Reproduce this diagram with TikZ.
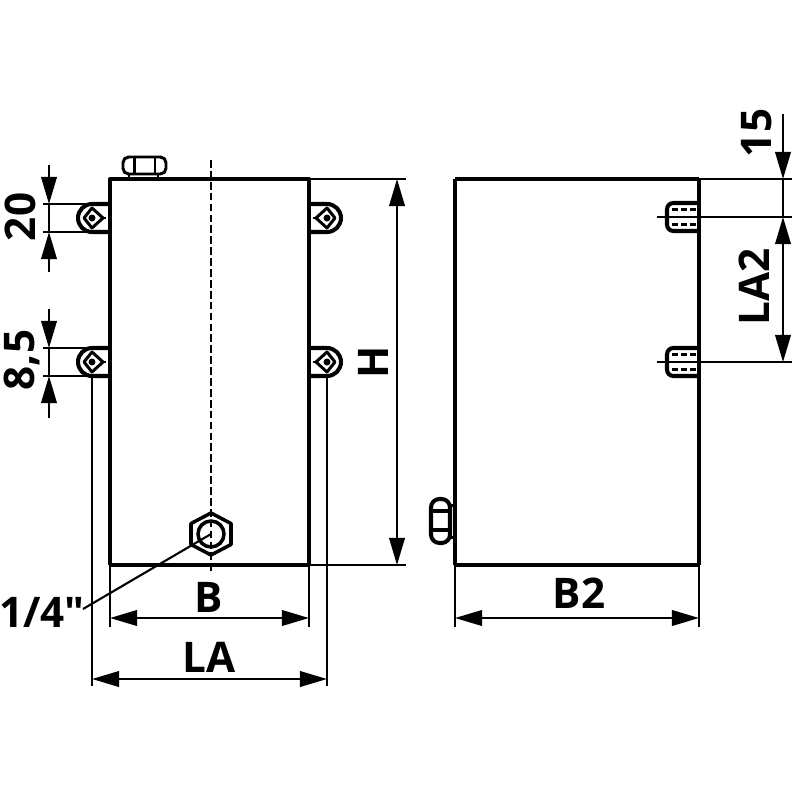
\documentclass[tikz,border=0pt]{standalone}
\usepackage{fontspec}
\newfontfamily\lblfont{Open Sans}
\usetikzlibrary{arrows.meta}
\tikzset{
thk/.style={line width=1.15pt,line join=round},
med/.style={line width=0.85pt,line join=round},
thn/.style={line width=0.6pt},
dim/.style={line width=0.6pt,{Triangle[length=0.27cm,width=0.155cm]}-{Triangle[length=0.27cm,width=0.155cm]}},
tip/.style={line width=0.6pt,-{Triangle[length=0.27cm,width=0.155cm]}},
lbl/.style={font=\fontsize{12}{12}\lblfont\bfseries,inner sep=0pt},
pics/lug/.style={code={
\draw[thk](18,-14)--(0,-14)arc(270:90:14)--(18,14);
\draw[med](-8,0)--(0,-10)--(11,0)--(0,10)--cycle;
\draw[med](11,0)--(14,0);
\fill(0,0)circle(3.5);
}},
pics/plug/.style={code={
\draw[thk,rounded corners=1.8pt](0,-14)--(-32,-14)--(-32,14)--(0,14);
\draw[line width=1pt,dash pattern=on 1.7pt off 0.9pt](-27,-7.5)--(0,-7.5)(-27,7.5)--(0,7.5);
\draw[line width=0.8pt,dash pattern=on 1.7pt off 0.9pt](-27,0)--(0,0);
}}
}
\begin{document}
\begin{tikzpicture}[x=0.01cm,y=-0.01cm]
\useasboundingbox(0,0)rectangle(800,800);
\coordinate(A)at(110,179);\coordinate(B)at(309,179);
\coordinate(C)at(309,565);\coordinate(D)at(110,565);
\coordinate(E)at(455,179);\coordinate(F)at(699,179);
\coordinate(G)at(699,565);\coordinate(K)at(455,565);
\coordinate(P)at(211,534);
% front view
\draw[thk](D)--(A)--(B)--(C);
\draw[line width=1.3pt](D)--(C);
\draw[thn,dash pattern=on 2.2pt off 0.9pt](211,160)--(211,573);
\draw[line width=1pt,line join=round](211,513)--(231,523.5)--(231,544.5)--(211,555)--(191,544.5)--(191,523.5)--cycle;
\draw[line width=1pt](P)circle(13);
\draw[med,rounded corners=1.6pt](123,157)rectangle(166,174);
\draw[med](134.5,157)--(134.5,174)(155,157)--(155,174)(129,174)--(129,179)(158,174)--(158,179);
\pic at(92,218){lug};
\pic at(92,362){lug};
\pic[xscale=-1]at(327,218){lug};
\pic[xscale=-1]at(327,362){lug};
% side view
\draw[thk](E)--(K);
\draw[thk](F)--(G);
\draw[thk](E)--(F);
\draw[line width=1.3pt](K)--(G);
\pic at(699,217){plug};
\pic at(699,362){plug};
\draw[thk,rounded corners=2.4pt](431,499)rectangle(450,543);
\draw[thk](431,511)--(450,511)(431,530)--(450,530);
\draw[med](450,505)--(455,505)(450,537)--(455,537)(450,505)--(450,537);
% extension lines
\draw[thn](43,204)--(92,204)(43,232)--(92,232)(43,348)--(92,348)(43,376)--(92,376);
\draw[thn](92,376)--(92,686)(327,376)--(327,686);
\draw[thn](B)--(406,179)(C)--(406,565);
\draw[thn](D)--(110,627)(C)--(309,627);
\draw[thn](K)--(455,627)(G)--(699,627);
\draw[thn](F)--(792,179)(657,217)--(792,217)(657,362)--(792,362);
% dimensions
\draw[tip](49,165)--(49,204);
\draw[tip](49,272)--(49,232);
\draw[thn](49,204)--(49,232);
\draw[tip](49,309)--(49,348);
\draw[tip](49,418)--(49,376);
\draw[thn](49,348)--(49,376);
\draw[dim](397,179)--(397,565);
\draw[dim](110,618)--(309,618);
\draw[dim](92,679)--(327,679);
\draw[dim](455,618)--(699,618);
\draw[tip](783,114)--(783,179);
\draw[thn](783,179)--(783,217);
\draw[dim](783,217)--(783,362);
\draw[thn](P)--(83,609);
\node[lbl,rotate=90](n20)at(20,217){20};
\node[lbl,rotate=90](n85)at(22,360){8,5};
\node[lbl,rotate=90](nH)at(373,362){H};
\node[lbl,rotate=90](n15)at(757,133){15};
\node[lbl,rotate=90](nLA2)at(754,287){LA2};
\node[lbl](nB)at(209,597){B};
\node[lbl](nLA)at(209,657){LA};
\node[lbl](nB2)at(579,593){B2};
\node[lbl](nIn)at(42,612){1/4"};
\end{tikzpicture}
\end{document}
